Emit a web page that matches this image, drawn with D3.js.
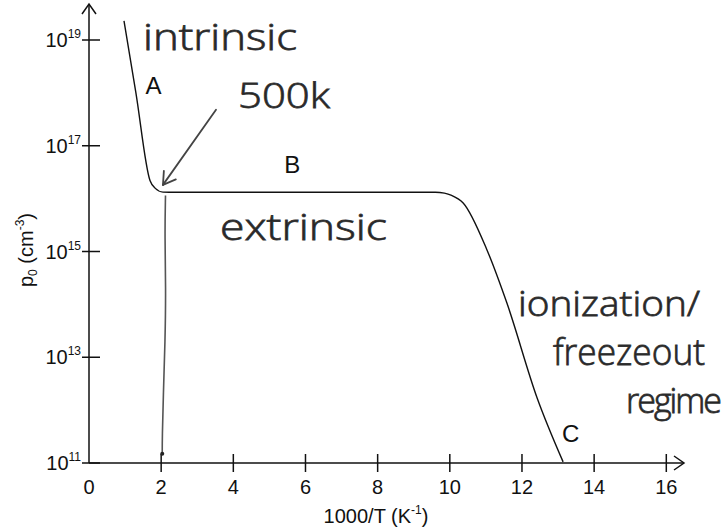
<!DOCTYPE html>
<html>
<head>
<meta charset="utf-8">
<script src="https://cdn.jsdelivr.net/npm/d3@7"></script>
<style>
  body { margin: 0; background: #fff; }
  .axis text { font-family: "Liberation Sans", Arial, sans-serif; }
  .hand { font-family: "Open Sans", sans-serif; font-weight: 300; fill: #222; stroke: #333; stroke-width: 0.8; }
</style>
</head>
<body>
<div id="chart"></div>
<script>
// curve p0 vs 1000/T
var invT = [0.97, 1.30, 1.69, 1.83, 2.05, 2.4, 4, 6, 8, 9.6, 9.85, 10.05, 10.37, 11.03, 11.58, 12.42, 13.14];
var p0   = [2.3e19, 1.0e18, 2.2e16, 1.58e16, 1.33e16, 1.32e16, 1.32e16, 1.32e16, 1.32e16, 1.32e16, 1.27e16, 1.15e16, 8.3e15, 1.07e15, 1.07e14, 1.7e12, 1.05e11];

var xTicks = [2, 4, 6, 8, 10, 12, 14, 16];
var xTickLabels = [0, 2, 4, 6, 8, 10, 12, 14, 16];
var yExps = [11, 13, 15, 17, 19];

// hand-drawn vertical mark near 500K
var markX = [2.12, 2.1, 2.13, 2.11, 2.06, 2.03, 2.03];
var markP = [1.15e16, 2e15, 2e14, 2e13, 2e12, 3e11, 1.5e11];

var width = 727, height = 529;
var svg = d3.select("#chart").append("svg")
    .attr("width", width)
    .attr("height", height);

var x = d3.scaleLinear().domain([0, 16]).range([89, 666.3]);
var y = d3.scaleLog().domain([1e11, 1e19]).range([463, 40]);

var axisTop = 4, axisRight = 684;

//axis lines with open arrowheads
var axes = svg.append("g").attr("stroke", "#111").attr("stroke-width", 1.5).attr("fill", "none");
axes.append("line").attr("x1", x(0)).attr("y1", y(1e11)).attr("x2", x(0)).attr("y2", axisTop);
axes.append("line").attr("x1", x(0)).attr("y1", y(1e11)).attr("x2", axisRight).attr("y2", y(1e11));
axes.append("path").attr("d", "M" + (x(0) - 7) + "," + (axisTop + 10) + "L" + x(0) + "," + axisTop + "L" + (x(0) + 7) + "," + (axisTop + 10));
axes.append("path").attr("d", "M" + (axisRight - 10) + "," + (y(1e11) - 7) + "L" + axisRight + "," + y(1e11) + "L" + (axisRight - 10) + "," + (y(1e11) + 7));

// x ticks straddle the axis
axes.selectAll(".xt").data(xTicks).enter().append("line")
    .attr("x1", function(d){ return x(d); })
    .attr("x2", function(d){ return x(d); })
    .attr("y1", y(1e11) - 9)
    .attr("y2", y(1e11) + 9);

axes.selectAll(".yt").data(yExps).enter().append("line")
    .attr("x1", x(0) - 7)
    .attr("x2", x(0) + 11)
    .attr("y1", function(d){ return y(Math.pow(10, d)); })
    .attr("y2", function(d){ return y(Math.pow(10, d)); });

var labels = svg.append("g").attr("class", "axis").attr("fill", "#111");

labels.selectAll(".xl").data(xTickLabels).enter().append("text")
    .attr("x", function(d){ return x(d); })
    .attr("y", 494)
    .attr("text-anchor", "middle")
    .attr("font-size", 20)
    .text(function(d){ return d; });

var yl = labels.selectAll(".yl").data(yExps).enter().append("text")
    .attr("x", 81)
    .attr("y", function(d){ return y(Math.pow(10, d)) + 7; })
    .attr("text-anchor", "end")
    .attr("font-size", 20);
yl.append("tspan").text("10");
yl.append("tspan").attr("font-size", 12).attr("dy", -9).text(function(d){ return d; });

// axis titles
var xt = labels.append("text")
    .attr("x", 376).attr("y", 523)
    .attr("text-anchor", "middle")
    .attr("font-size", 20);
xt.append("tspan").text("1000/T (K");
xt.append("tspan").attr("font-size", 12).attr("dy", -9).text("-1");
xt.append("tspan").attr("dy", 9).text(")");

var yt = labels.append("text")
    .attr("transform", "translate(33,250) rotate(-90)")
    .attr("text-anchor", "middle")
    .attr("font-size", 20);
yt.append("tspan").text("p");
yt.append("tspan").attr("font-size", 12).attr("dy", 4).text("0");
yt.append("tspan").attr("dy", -4).text(" (cm");
yt.append("tspan").attr("font-size", 12).attr("dy", -9).text("-3");
yt.append("tspan").attr("dy", 9).text(")");

// the curve
var pts = invT.map(function(v, i){ return [v, p0[i]]; });
var line = d3.line()
    .x(function(d){ return x(d[0]); })
    .y(function(d){ return y(d[1]); })
    .curve(d3.curveMonotoneX);

svg.append("path")
    .datum(pts)
    .attr("d", line)
    .attr("fill", "none")
    .attr("stroke", "#111")
    .attr("stroke-width", 1.4);

// region letters
var letters = [["A", 1.79, 94], ["B", 5.63, 173], ["C", 13.35, 442]];
labels.selectAll(".let").data(letters).enter().append("text")
    .attr("x", function(d){ return x(d[1]); })
    .attr("y", function(d){ return d[2]; })
    .attr("text-anchor", "middle")
    .attr("font-size", 24)
    .text(function(d){ return d[0]; });

// hand-written annotations
var hand = svg.append("g").attr("class", "hand");
var notes = [
    ["intrinsic", 143, 50, 36, 154, 0],
    ["500k", 238, 108, 34, 92, 0],
    ["extrinsic", 220, 240, 36, 167, 0],
    ["ionization/", 518, 316, 34, 182, 0],
    ["freezeout", 553, 365, 36, 152, 0],
    ["regime", 626, 413, 34, 0, -2]
];
hand.selectAll("text").data(notes).enter().append("text")
    .attr("x", function(d){ return d[1]; })
    .attr("y", function(d){ return d[2]; })
    .attr("font-size", function(d){ return d[3]; })
    .attr("textLength", function(d){ return d[4] || null; })
    .attr("lengthAdjust", function(d){ return d[4] ? "spacingAndGlyphs" : null; })
    .attr("letter-spacing", function(d){ return d[5] || null; })
    .text(function(d){ return d[0]; });

// arrow to the 500K knee
var arrowFrom = [3.52, Math.pow(10, 17.68)], arrowTo = [2.05, Math.pow(10, 16.26)];
var ax0 = x(arrowFrom[0]), ay0 = y(arrowFrom[1]), ax1 = x(arrowTo[0]), ay1 = y(arrowTo[1]);
var ang = Math.atan2(ay1 - ay0, ax1 - ax0);
var hg = svg.append("g").attr("stroke", "#444").attr("stroke-width", 1.8).attr("fill", "none").attr("stroke-linecap", "round");
hg.append("line").attr("x1", ax0).attr("y1", ay0).attr("x2", ax1).attr("y2", ay1);
[0.55, -0.55].forEach(function(a){
    hg.append("line")
        .attr("x1", ax1).attr("y1", ay1)
        .attr("x2", ax1 - 14 * Math.cos(ang + a))
        .attr("y2", ay1 - 14 * Math.sin(ang + a));
});

// vertical mark
var markPts = markX.map(function(v, i){ return [v, markP[i]]; });
svg.append("path")
    .datum(markPts)
    .attr("d", d3.line().x(function(d){ return x(d[0]); }).y(function(d){ return y(d[1]); }).curve(d3.curveBasis))
    .attr("fill", "none")
    .attr("stroke", "#555")
    .attr("stroke-width", 1.6);
svg.append("circle").attr("cx", x(2.03)).attr("cy", y(1.5e11)).attr("r", 2).attr("fill", "#222");
</script>
</body>
</html>
